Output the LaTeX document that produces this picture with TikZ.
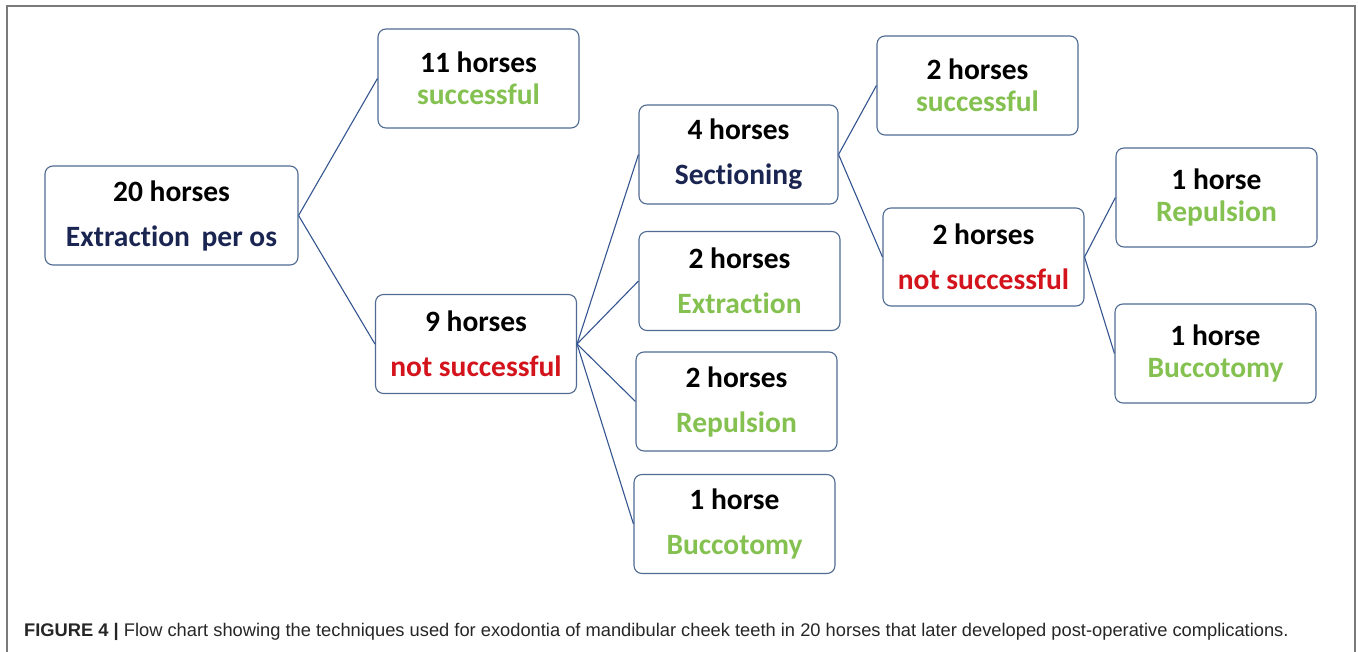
\documentclass[tikz,border=0pt]{standalone}
\usepackage{fontspec}
\setmainfont{Carlito}[Ligatures=NoCommon]
\newfontfamily\capfont{Liberation Sans}
\definecolor{boxline}{HTML}{4F6A93}
\definecolor{linkline}{HTML}{34558F}
\definecolor{navytext}{HTML}{1A2552}
\definecolor{greentext}{HTML}{84C150}
\definecolor{redtext}{HTML}{D4141C}
\definecolor{framegray}{HTML}{7A7A7A}
\begin{document}
\begin{tikzpicture}[x=1pt,y=-1pt,
  box/.style={draw=boxline, line width=1.1pt, rounded corners=8pt, fill=white,
    minimum width=#1, inner sep=0pt, align=center, text=black},
  box/.default=201pt,
  wide/.style={minimum height=99pt, font=\bfseries\fontsize{29.5}{45}\selectfont},
  tight/.style={minimum height=99pt, font=\bfseries\fontsize{29.5}{32}\selectfont},
  link/.style={draw=linkline, line width=1.1pt}]
\useasboundingbox (0,0) rectangle (1358,652);
% outer frame, open at the bottom
\draw[framegray, line width=1.6pt] (7,652) -- (7,6) -- (1355,6) -- (1355,652);

% first column
\node[box=253pt, wide] (root) at (171.5,215.5) {20 horses\\{\color{navytext}Extraction\ \,per os}};
% second column
\node[box, tight] (ok1) at (478.5,78.5) {11 horses\\{\color{greentext}successful}};
\node[box, wide] (fail1) at (476,344) {9 horses\\{\color{redtext}not successful}};
% third column
\node[box=199pt, wide] (sect) at (738.5,154.5) {4 horses\\{\color{navytext}Sectioning}};
\node[box, wide] (extr) at (739.5,281) {2 horses\\{\color{greentext}Extraction}};
\node[box, wide] (rep1) at (736.5,401.5) {2 horses\\{\color{greentext}Repulsion}};
\node[box, wide] (bucc1) at (734.5,524) {1 horse\\{\color{greentext}Buccotomy}};
% fourth column
\node[box, tight] (ok2) at (977.5,85.5) {2 horses\\{\color{greentext}successful}};
\node[box, wide, minimum height=98pt] (fail2) at (983.5,257) {2 horses\\{\color{redtext}not successful}};
% fifth column
\node[box, tight] (rep2) at (1216.5,197.5) {1 horse\\{\color{greentext}Repulsion}};
\node[box, tight] (bucc2) at (1215.5,353.5) {1 horse\\{\color{greentext}Buccotomy}};

% connectors
\draw[link] (root.east) -- (ok1.west);
\draw[link] (root.east) -- (fail1.west);
\draw[link] (fail1.east) -- (sect.west);
\draw[link] (fail1.east) -- (extr.west);
\draw[link] (fail1.east) -- (rep1.west);
\draw[link] (fail1.east) -- (bucc1.west);
\draw[link] (sect.east) -- (ok2.west);
\draw[link] (sect.east) -- (fail2.west);
\draw[link] (fail2.east) -- (rep2.west);
\draw[link] (fail2.east) -- (bucc2.west);

% caption
\node[anchor=base west, inner sep=0pt, font=\capfont\fontsize{18.3}{22}\selectfont, text=black!85]
  (caption) at (24,636)
  {\textbf{FIGURE 4 |} Flow chart showing the techniques used for exodontia of mandibular cheek teeth in 20 horses that later developed post-operative complications.};
\end{tikzpicture}
\end{document}
